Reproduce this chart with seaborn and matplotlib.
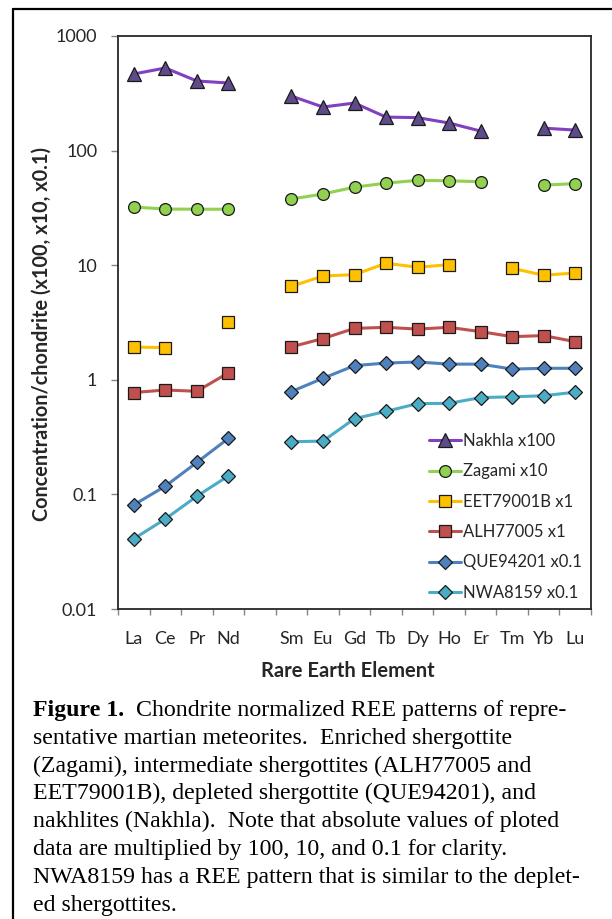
import numpy as np
import pandas as pd
import matplotlib
matplotlib.use("Agg")
import matplotlib.pyplot as plt
from matplotlib.lines import Line2D
from matplotlib.ticker import NullLocator
import seaborn as sns

# chondrite normalized REE values (already multiplied as in legend)
elements = ["La", "Ce", "Pr", "Nd", "", "Sm", "Eu", "Gd", "Tb", "Dy", "Ho", "Er", "Tm", "Yb", "Lu"]
nan = np.nan
nakhla = [466, 526, 405, 389, nan, 299, 240, 260, 196, 194, 174, 148, nan, 157, 151]
zagami = [32.2, 30.9, 30.8, 30.8, nan, 37.8, 41.8, 48, 52, 55, 54.5, 53.5, nan, 50, 51.5]
eet79001b = [1.93, 1.91, nan, 3.19, nan, 6.54, 8.05, 8.27, 10.4, 9.6, 10.1, nan, 9.4, 8.17, 8.55]
alh77005 = [0.774, 0.815, 0.794, 1.15, nan, 1.94, 2.29, 2.81, 2.87, 2.77, 2.87, 2.63, 2.38, 2.43, 2.15]
que94201 = [0.081, 0.118, 0.19, 0.308, nan, 0.79, 1.03, 1.33, 1.40, 1.43, 1.37, 1.37, 1.24, 1.26, 1.26]
nwa8159 = [0.041, 0.061, 0.0964, 0.145, nan, 0.288, 0.292, 0.458, 0.53, 0.62, 0.623, 0.70, 0.71, 0.726, 0.78]

series = [
    ("Nakhla x100", nakhla, "#8040C0", "#5F4B8B", "^", 9.5),
    ("Zagami x10", zagami, "#92D050", "#92D050", "o", 8.5),
    ("EET79001B x1", eet79001b, "#FFC000", "#FFC000", "s", 8.3),
    ("ALH77005 x1", alh77005, "#C0504D", "#C0504D", "s", 8.3),
    ("QUE94201 x0.1", que94201, "#4F81BD", "#4F81BD", "D", 7.3),
    ("NWA8159 x0.1", nwa8159, "#4BACC6", "#4BACC6", "D", 7.3),
]

caption = [
    "sentative martian meteorites.  Enriched shergottite",
    "(Zagami), intermediate shergottites (ALH77005 and",
    "EET79001B), depleted shergottite (QUE94201), and",
    "nakhlites (Nakhla).  Note that absolute values of ploted",
    "data are multiplied by 100, 10, and 0.1 for clarity.",
    "NWA8159 has a REE pattern that is similar to the deplet-",
    "ed shergottites.",
]

sns.set_theme(style="white")
plt.rcParams["font.family"] = ["Lato", "DejaVu Sans"]

W, H = 612, 919
fig = plt.figure(figsize=(W / 100, H / 100), dpi=100)
ax = fig.add_axes([118 / W, 1 - 609 / H, (591 - 118) / W, (609 - 36) / H])

edge = "#1a1a1a"
handles = []
for label, vals, lc, fc, mk, ms in series:
    df = pd.DataFrame({"pos": np.arange(len(elements)), "value": vals})
    df["seg"] = df["value"].isna().cumsum()
    df = df.dropna()
    sns.lineplot(data=df, x="pos", y="value", units="seg", estimator=None,
                 color=lc, lw=2.2, marker=mk, markersize=ms,
                 markerfacecolor=fc, markeredgecolor=edge, markeredgewidth=0.9,
                 ax=ax, legend=False)
    handles.append(Line2D([], [], color=lc, lw=2.2, marker=mk, markersize=ms,
                          markerfacecolor=fc, markeredgecolor=edge,
                          markeredgewidth=0.9, label=label))

ax.set_yscale("log")
ax.set_ylim(0.01, 1000)
ax.set_yticks([0.01, 0.1, 1, 10, 100, 1000], labels=["0.01", "0.1", "1", "10", "100", "1000"])
ax.yaxis.set_minor_locator(NullLocator())
ax.set_xlim(-0.5, len(elements) - 0.5)
ax.set_xticks(np.arange(len(elements)), labels=elements)
ax.set_xticks(np.arange(-0.5, len(elements)), minor=True)

ax.tick_params(axis="y", which="major", direction="out", length=5, width=1,
               color="#868686", labelsize=13, pad=10, left=True)
ax.tick_params(axis="x", which="major", length=0, labelsize=13, pad=16)
ax.tick_params(axis="x", which="minor", direction="out", length=4, width=1,
               color="#868686", bottom=True)
for sp in ax.spines.values():
    sp.set_color("#262626")
    sp.set_linewidth(1.3)
ax.grid(False)

ax.set_ylabel("Concentration/chondrite (x100, x10, x0.1)", fontsize=14.3, fontweight="bold")
ax.yaxis.set_label_coords((52 - 118) / 473, (609 - 334) / 573)
ax.set_xlabel("Rare Earth Element", fontsize=14.5, fontweight="bold")
ax.xaxis.set_label_coords((348 - 118) / 473, (609 - 661) / 573)

ax.legend(handles=handles, loc="upper left", bbox_to_anchor=(429 / W, 1 - 433 / H),
          bbox_transform=fig.transFigure, frameon=False, fontsize=12,
          handlelength=1.9, handletextpad=0.15, labelspacing=0.86,
          borderpad=0, borderaxespad=0)

# outer frame of the figure panel
fig.add_artist(Line2D([13 / W, 13 / W], [0, 1 - 9 / H], color="black", lw=1.6,
                      transform=fig.transFigure))
fig.add_artist(Line2D([13 / W, 1], [1 - 9 / H, 1 - 9 / H], color="black", lw=1.6,
                      transform=fig.transFigure))

# caption
serif = "Liberation Serif"
cap_size = 17.2
x0 = 33 / W
y0 = 716
step = 27.8
t = fig.text(x0, 1 - y0 / H, "Figure 1.", family=serif, fontweight="bold",
             fontsize=cap_size, va="baseline", color="black")
fig.canvas.draw()
bb = t.get_window_extent()
fig.text(bb.x1 / W, 1 - y0 / H, "  Chondrite normalized REE patterns of repre-",
         family=serif, fontsize=cap_size, va="baseline", color="black")
for i, line in enumerate(caption):
    fig.text(x0, 1 - (y0 + step * (i + 1)) / H, line, family=serif,
             fontsize=cap_size, va="baseline", color="black")

fig.savefig("out.png", dpi=100)
